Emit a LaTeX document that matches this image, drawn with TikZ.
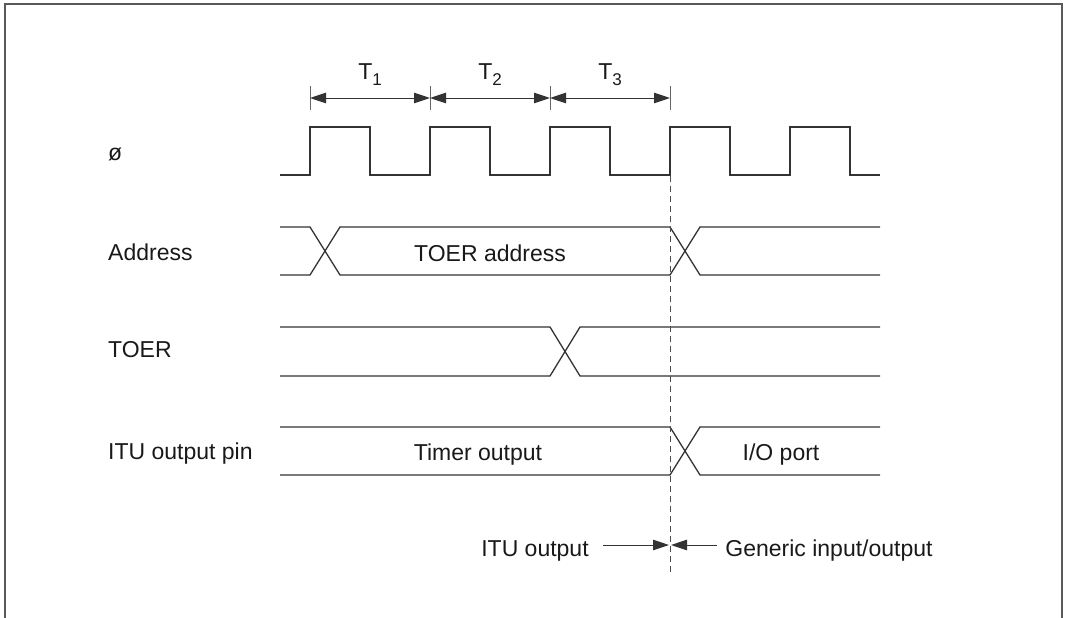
\documentclass[tikz,border=0pt]{standalone}
\usepackage{fontspec}
\setmainfont{Liberation Sans}
\usetikzlibrary{arrows.meta}
\tikzset{
  sig/.style={line width=1.3pt, draw=black!80, line join=miter},
  tick/.style={line width=1pt, draw=black!60},
  dim/.style={line width=1pt, draw=black!80, {Triangle[length=16pt,width=10.5pt]}-{Triangle[length=16pt,width=10.5pt]}},
  onearrow/.style={line width=1pt, draw=black!80, -{Triangle[length=16pt,width=10.5pt]}},
  guide/.style={line width=0.9pt, draw=black!70, dash pattern=on 6pt off 4pt},
  frame/.style={line width=2pt, draw=black!65},
  lbl/.style={font=\fontsize{23}{27}\selectfont, text=black!90, inner sep=0pt},
  sublbl/.style={font=\fontsize{23}{27}\selectfont, text=black!90, inner sep=0pt, anchor=base}
}
\begin{document}
\begin{tikzpicture}[x=1pt,y=-1pt]
\useasboundingbox (0,0) rectangle (1068,618);
% frame
\draw[frame] (5,618) -- (5,4) -- (1062,4) -- (1062,618);

% dimension ticks
\foreach \i/\x in {0/310,1/430,2/550,3/670}{
  \coordinate (tt\i) at (\x,86);
  \coordinate (tb\i) at (\x,110);
  \coordinate (ta\i) at (\x,98);
  \draw[tick] (tt\i) -- (tb\i);
}
\draw[dim] (ta0) -- (ta1);
\draw[dim] (ta1) -- (ta2);
\draw[dim] (ta2) -- (ta3);
\node[sublbl] (T1) at (370,79) {T\raisebox{-0.3em}{\fontsize{17}{19}\selectfont 1}};
\node[sublbl] (T2) at (490,79) {T\raisebox{-0.3em}{\fontsize{17}{19}\selectfont 2}};
\node[sublbl] (T3) at (610,79) {T\raisebox{-0.3em}{\fontsize{17}{19}\selectfont 3}};

% signal names
\node[lbl, anchor=base west] (phi) at (108,160) {ø};
\node[lbl, anchor=base west] (addr) at (108,260) {Address};
\node[lbl, anchor=base west] (toer) at (108,357) {TOER};
\node[lbl, anchor=base west] (itu) at (108,459) {ITU output pin};

% clock
\draw[sig] (280,175) foreach \x in {310,430,550,670,790} { -- (\x,175) -- (\x,127) -- (\x+60,127) -- (\x+60,175) } -- (880,175);

% address bus
\draw[sig] (280,227) -- (310,227) -- (340,275) -- (670,275) -- (700,227) -- (880,227);
\draw[sig] (280,275) -- (310,275) -- (340,227) -- (670,227) -- (700,275) -- (880,275);
\node[lbl, anchor=base] (toeraddr) at (490,261) {TOER address};

% TOER
\draw[sig] (280,327) -- (550,327) -- (580,376) -- (880,376);
\draw[sig] (280,376) -- (550,376) -- (580,327) -- (880,327);

% ITU output pin
\draw[sig] (280,427) -- (670,427) -- (700,475) -- (880,475);
\draw[sig] (280,475) -- (670,475) -- (700,427) -- (880,427);
\node[lbl, anchor=base] (timer) at (478,460) {Timer output};
\node[lbl, anchor=base] (io) at (781,460) {I/O port};

% guide line
\coordinate (gtop) at (670,176);
\coordinate (gbot) at (670,572);
\draw[guide] (gtop) -- (gbot);

% bottom arrows
\node[lbl, anchor=base] (ituout) at (535,556) {ITU output};
\node[lbl, anchor=base] (generic) at (829,556) {Generic input/output};
\coordinate (la) at (603,545);
\coordinate (lb) at (669,545);
\coordinate (ra) at (717,545);
\coordinate (rb) at (671,545);
\draw[onearrow] (la) -- (lb);
\draw[onearrow] (ra) -- (rb);
\end{tikzpicture}
\end{document}
